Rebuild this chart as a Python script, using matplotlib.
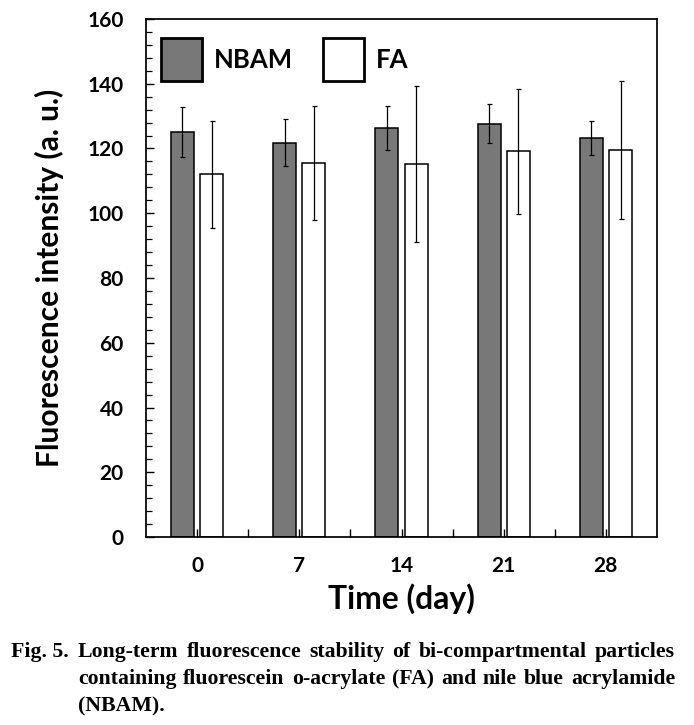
import numpy as np
import matplotlib
matplotlib.use("Agg")
import matplotlib.pyplot as plt
from matplotlib.patches import Patch

# Values
days = ["0", "7", "14", "21", "28"]
nbam = [125.0, 121.8, 126.3, 127.7, 123.2]
nbam_err = [7.7, 7.2, 6.9, 6.1, 5.3]
fa = [112.0, 115.6, 115.2, 119.1, 119.5]
fa_err = [16.5, 17.6, 24.1, 19.2, 21.4]

caption_lines = [
    "Long-term fluorescence stability of bi-compartmental particles",
    "containing fluorescein o-acrylate (FA) and nile blue acrylamide",
    "(NBAM).",
]

W, H = 694, 725
plt.rcParams["font.family"] = ["Lato", "DejaVu Sans"]
plt.rcParams["font.weight"] = "bold"

fig = plt.figure(figsize=(W / 100, H / 100), dpi=100)
ax = fig.add_axes([146 / W, 1 - 537 / H, 511 / W, 518 / H])
rend = fig.canvas.get_renderer()

x = np.arange(len(days))
width = 0.225
off = 0.143
ekw = dict(ecolor="black", elinewidth=0.9, capsize=1.8, capthick=0.9)
ax.bar(x - off, nbam, width, color="#787878", edgecolor="black", linewidth=1.1,
       yerr=nbam_err, error_kw=ekw, zorder=2)
ax.bar(x + off, fa, width, color="white", edgecolor="black", linewidth=1.1,
       yerr=fa_err, error_kw=ekw, zorder=2)

ax.set_xlim(-0.5, len(days) - 0.5)
ax.set_ylim(0, 160)
ax.set_yticks(np.arange(0, 161, 20))
ax.set_yticks(np.arange(0, 161, 4), minor=True)
ax.set_xticks(x)
ax.set_xticklabels(days)
ax.set_xticks(np.arange(0.5, len(days) - 0.5, 1), minor=True)
ax.set_axisbelow(True)

ax.tick_params(axis="y", which="major", direction="in", length=6, width=1.0,
               labelsize=15, pad=16)
ax.tick_params(axis="y", which="minor", direction="in", length=4, width=0.9)
ax.tick_params(axis="x", which="both", direction="in", length=6, width=1.0,
               labelsize=15, pad=14)
for lab in ax.get_xticklabels() + ax.get_yticklabels():
    lab.set_fontweight("bold")
for s in ax.spines.values():
    s.set_linewidth(1.25)


def fit(txt, target_px, horizontal=True):
    # scale the font so the text spans target_px
    bb = txt.get_window_extent(rend)
    cur = bb.width if horizontal else bb.height
    txt.set_fontsize(txt.get_fontsize() * target_px / cur)


ylab = ax.set_ylabel("Fluorescence intensity (a. u.)", fontsize=22, fontweight="bold", labelpad=17)
fit(ylab, 378, horizontal=False)
xlab = ax.set_xlabel("Time (day)", fontsize=22, fontweight="bold", labelpad=5)
fit(xlab, 147)

handles = [Patch(facecolor="#787878", edgecolor="black", linewidth=2.0, label="NBAM"),
           Patch(facecolor="white", edgecolor="black", linewidth=2.0, label="FA")]
ax.legend(handles=handles, loc="upper left", bbox_to_anchor=(14.5 / 511, 1 - 19 / 518),
          ncol=2, frameon=False, borderpad=0, borderaxespad=0,
          handlelength=1.6, handleheight=2.2, handletextpad=0.47, columnspacing=1.17,
          prop=dict(family=["Lato", "DejaVu Sans"], weight="bold", size=18.5))

# caption, justified between x0 and x1 like the printed figure
cap_font = ["Liberation Serif", "DejaVu Serif"]
x0, x1 = 78, 675
baselines = [657, 684, 711]
probe = fig.text(0, 0, caption_lines[1], family=cap_font, weight="bold", fontsize=14)
cap_size = 14 * (x1 - x0) * 0.985 / probe.get_window_extent(rend).width
probe.remove()

fig.text(11 / W, 1 - baselines[0] / H, "Fig. 5.", family=cap_font, weight="bold",
         fontsize=cap_size, va="baseline", ha="left")
for i, line in enumerate(caption_lines):
    words = line.split(" ")
    arts = [fig.text(0, 1 - baselines[i] / H, w, family=cap_font, weight="bold",
                     fontsize=cap_size, va="baseline", ha="left") for w in words]
    widths = [a.get_window_extent(rend).width for a in arts]
    if i < len(caption_lines) - 1 and len(words) > 1:
        gap = (x1 - x0 - sum(widths)) / (len(words) - 1)
    else:
        gap = cap_size * 100 / 72 * 0.25
    pos = x0
    for a, w in zip(arts, widths):
        a.set_x(pos / W)
        pos += w + gap

fig.savefig("out.png", dpi=100)
